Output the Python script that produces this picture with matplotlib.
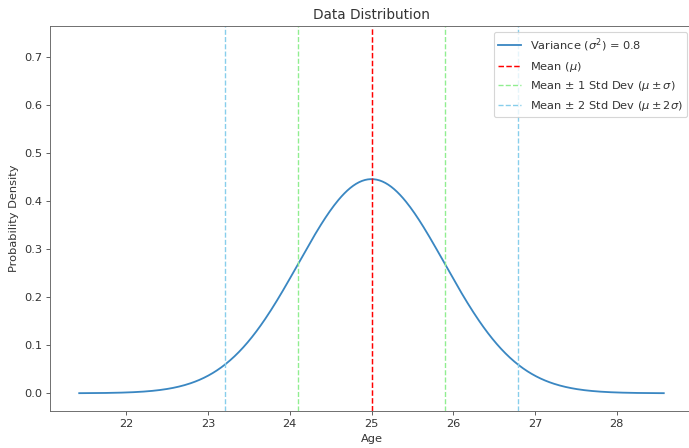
import numpy as np
import matplotlib
matplotlib.use("Agg")
import matplotlib.pyplot as plt

# Data (parameters of the plotted distribution)
mean = 25.0
variance = 0.8
std = np.sqrt(variance)
x_vals = np.linspace(mean - 4 * std, mean + 4 * std, 400)
pdf_vals = np.exp(-(x_vals - mean) ** 2 / (2 * variance)) / np.sqrt(2 * np.pi * variance)

title = "Data Distribution"
xlabel = "Age"
ylabel = "Probability Density"
xticks = [22, 23, 24, 25, 26, 27, 28]
yticks = [0.0, 0.1, 0.2, 0.3, 0.4, 0.5, 0.6, 0.7]

plt.rcParams['text.color'] = '#333333'
plt.rcParams['axes.labelcolor'] = '#333333'
plt.rcParams['xtick.color'] = '#555555'
plt.rcParams['ytick.color'] = '#555555'
plt.rcParams['xtick.labelcolor'] = '#333333'
plt.rcParams['ytick.labelcolor'] = '#333333'

DPI = 82
fig = plt.figure(figsize=(689 / DPI, 448 / DPI), dpi=DPI)
ax = fig.add_axes([50 / 689, 1 - 411 / 448, 643 / 689, (411 - 26) / 448])

ax.plot(x_vals, pdf_vals, color='#3a87c2', lw=1.6, label=r'Variance ($\sigma^2$) = 0.8')
ax.axvline(mean, color='red', ls='--', lw=1.3, label=r'Mean ($\mu$)')
ax.axvline(mean - std, color='#90ee90', ls='--', lw=1.2, label=r'Mean $\pm$ 1 Std Dev ($\mu \pm \sigma$)')
ax.axvline(mean + std, color='#90ee90', ls='--', lw=1.2)
ax.axvline(mean - 2 * std, color='#87ceeb', ls='--', lw=1.2, label=r'Mean $\pm$ 2 Std Dev ($\mu \pm 2\sigma$)')
ax.axvline(mean + 2 * std, color='#87ceeb', ls='--', lw=1.2)

ax.set_ylim(-0.037, 0.765)
ax.set_xticks(xticks)
ax.set_yticks(yticks)
ax.set_title(title, fontsize=12)
ax.set_xlabel(xlabel, fontsize=10)
ax.set_ylabel(ylabel, fontsize=10)
for s in ax.spines.values():
    s.set_color('#666666')
ax.legend(loc='upper right', fontsize=10)

fig.savefig("out.png", dpi=DPI)
